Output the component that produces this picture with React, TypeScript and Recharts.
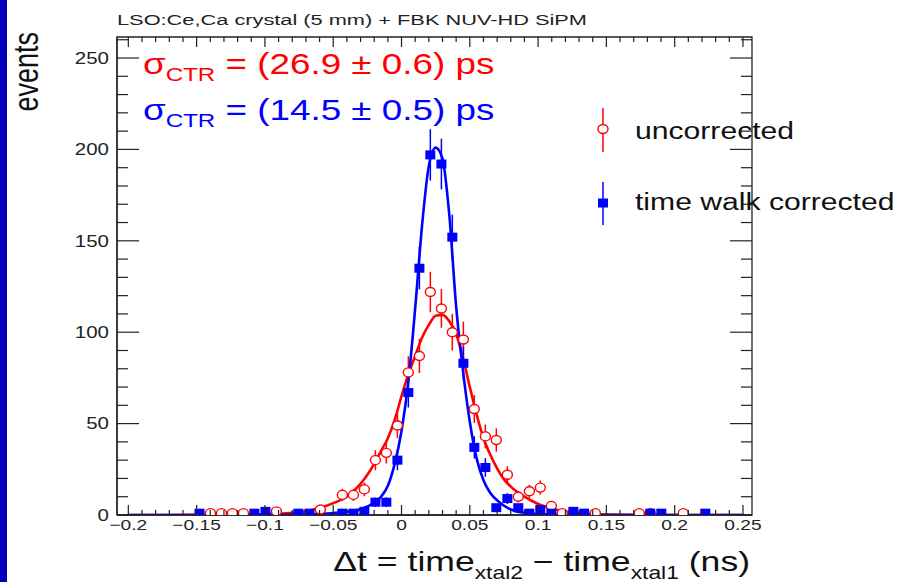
import React from "react";
import { ComposedChart, Line, Scatter, ErrorBar, XAxis, YAxis, ReferenceArea, Legend } from "recharts";

// binned event counts, bin centres in ns
const uncorrectedX = [-0.1399, -0.1318, -0.1238, -0.1157, -0.0916, -0.0594, -0.0433, -0.0352, -0.0272, -0.0191, -0.0111, -0.003, 0.005, 0.0131, 0.0211, 0.0292, 0.0372, 0.0453, 0.0533, 0.0614, 0.0694, 0.0775, 0.0855, 0.0936, 0.1016, 0.1097, 0.1177, 0.1258, 0.1419, 0.1741, 0.1821, 0.2063];
const uncorrectedY = [1, 1, 1, 1, 2, 3, 11, 11, 14, 30, 34, 49, 78, 87, 122, 113, 100, 96, 58, 43, 41, 22, 10, 13, 15, 5, 1, 1, 1, 1, 1, 1];

const correctedX = [-0.1479, -0.1077, -0.0996, -0.0755, -0.0674, -0.0433, -0.0352, -0.0272, -0.0191, -0.0111, -0.003, 0.005, 0.0131, 0.0211, 0.0292, 0.0372, 0.0453, 0.0533, 0.0614, 0.0694, 0.0775, 0.0855, 0.0936, 0.1016, 0.1097, 0.1258, 0.1338, 0.1821, 0.1902, 0.2224];
const correctedY = [1, 1, 2, 1, 1, 1, 1, 2, 7, 7, 30, 67, 135, 197, 192, 152, 83, 37, 26, 4, 9, 4, 1, 3, 1, 2, 1, 1, 1, 1];

// fit curves, sampled by eye
const fitUncorrectedX = [-0.2, -0.15, -0.12, -0.1, -0.09, -0.08, -0.07, -0.06, -0.05, -0.04, -0.03, -0.025, -0.02, -0.015, -0.01, -0.005, 0, 0.005, 0.01, 0.015, 0.02, 0.025, 0.03, 0.035, 0.04, 0.045, 0.05, 0.055, 0.06, 0.065, 0.07, 0.075, 0.08, 0.09, 0.1, 0.11, 0.12, 0.13, 0.14, 0.16, 0.2, 0.25];
const fitUncorrectedY = [0, 0.05, 0.2, 0.4, 0.7, 1.2, 2, 3.8, 6.5, 10, 17, 22, 28, 35, 42, 52, 65, 77, 87, 97, 104, 109, 109.5, 106, 99, 86, 70, 55, 42, 33, 25.5, 19.5, 15.5, 10, 6, 3.5, 1.9, 1, 0.5, 0.15, 0, 0];

const fitCorrectedX = [-0.2, -0.1, -0.07, -0.05, -0.04, -0.03, -0.02, -0.015, -0.01, -0.005, 0, 0.005, 0.01, 0.015, 0.02, 0.025, 0.03, 0.035, 0.04, 0.045, 0.05, 0.055, 0.06, 0.065, 0.07, 0.08, 0.09, 0.1, 0.12, 0.25];
const fitCorrectedY = [0, 0.1, 0.4, 1.1, 1.8, 3.2, 6.8, 10, 16, 28, 46, 73, 113, 158, 191, 201, 195, 164, 114, 79, 51, 31, 19, 12, 8, 3, 1.2, 0.5, 0.1, 0];

const xMajorTicks = [-0.2, -0.15, -0.1, -0.05, 0, 0.05, 0.1, 0.15, 0.2, 0.25];
const xTickLabels = ["\u22120.2", "\u22120.15", "\u22120.1", "\u22120.05", "0", "0.05", "0.1", "0.15", "0.2", "0.25"];
const yMajorTicks = [0, 50, 100, 150, 200, 250];

const X_MIN = -0.2083;
const X_MAX = 0.2566;
const Y_MAX = 261.5;

const xTicks = Array.from({ length: 46 }, (_, i) => Math.round((-0.2 + i * 0.01) * 1000) / 1000);
const yTicks = Array.from({ length: 27 }, (_, i) => i * 10);

const RED = "#ff0000";
const BLUE = "#0000ff";
const AXIS = "#222";
const FONT = "'Liberation Sans', Arial, Helvetica, sans-serif";
const STRETCH = 1.28;

const PLOT_W = 635;
const PLOT_H = 478;

const uncorrected = uncorrectedX.map((x, i) => ({ x, y: uncorrectedY[i], err: Math.sqrt(uncorrectedY[i]) }));
const corrected = correctedX.map((x, i) => ({ x, y: correctedY[i], err: Math.sqrt(correctedY[i]) }));
const fitUncorrected = fitUncorrectedX.map((x, i) => ({ x, y: fitUncorrectedY[i] }));
const fitCorrected = fitCorrectedX.map((x, i) => ({ x, y: fitCorrectedY[i] }));

const XTick = (props: any) => {
  const { x, y, payload } = props;
  const idx = xMajorTicks.findIndex((t) => Math.abs(t - payload.value) < 1e-6);
  const len = idx >= 0 ? 10 : 5;
  return (
    <g>
      <line x1={x} y1={y} x2={x} y2={y - len} stroke={AXIS} strokeWidth={1.2} />
      <line x1={x} y1={y - PLOT_H} x2={x} y2={y - PLOT_H + len} stroke={AXIS} strokeWidth={1.2} />
      {idx >= 0 && (
        <text transform={`translate(${x},${y + 15}) scale(${STRETCH},1)`} textAnchor="middle" fontSize={15} fontFamily={FONT} fill={AXIS}>
          {xTickLabels[idx]}
        </text>
      )}
    </g>
  );
};

const YTick = (props: any) => {
  const { x, y, payload } = props;
  const major = yMajorTicks.includes(payload.value);
  const len = major ? 22 : 11;
  return (
    <g>
      <line x1={x} y1={y} x2={x + len} y2={y} stroke={AXIS} strokeWidth={1.2} />
      <line x1={x + PLOT_W - len} y1={y} x2={x + PLOT_W} y2={y} stroke={AXIS} strokeWidth={1.2} />
      {major && (
        <text transform={`translate(${x - 8},${y}) scale(${STRETCH},1)`} dy="0.36em" textAnchor="end" fontSize={16} fontFamily={FONT} fill={AXIS}>
          {payload.value}
        </text>
      )}
    </g>
  );
};

const RedCircle = (p: any) => (
  <ellipse cx={p.cx} cy={p.cy} rx={5} ry={4.5} fill="#fff" stroke={RED} strokeWidth={1.4} />
);
const BlueSquare = (p: any) => <rect x={p.cx - 5} y={p.cy - 4.5} width={10} height={9} fill={BLUE} />;

const LegendBox = () => (
  <svg width={310} height={140} style={{ overflow: "visible" }}>
    <line x1={13} y1={8} x2={13} y2={52} stroke={RED} strokeWidth={1.5} />
    <ellipse cx={13} cy={29} rx={5} ry={4.5} fill="#fff" stroke={RED} strokeWidth={1.4} />
    <text transform="translate(45,39) scale(1.31,1)" fontSize={23} fontFamily={FONT} fill="#111">uncorrected</text>
    <line x1={13} y1={82} x2={13} y2={125} stroke={BLUE} strokeWidth={1.5} />
    <rect x={8} y={98.5} width={10} height={9} fill={BLUE} />
    <text transform="translate(45,110) scale(1.31,1)" fontSize={23} fontFamily={FONT} fill="#111">time walk corrected</text>
  </svg>
);

export default function App() {
  return (
    <div style={{ position: "absolute", left: 0, top: 0, width: 900, height: 582, background: "#fff", overflow: "hidden" }}>
      <div style={{ position: "absolute", left: 0, top: 0, width: 7, height: 582, background: "#0000bb" }} />
      <ComposedChart width={900} height={582} margin={{ top: 37, right: 148, bottom: 37, left: 0 }}>
        <XAxis
          type="number"
          dataKey="x"
          domain={[X_MIN, X_MAX]}
          allowDataOverflow
          ticks={xTicks}
          interval={0}
          tick={<XTick />}
          tickLine={false}
          tickSize={0}
          tickMargin={0}
          height={30}
          axisLine={{ stroke: AXIS, strokeWidth: 1.3 }}
        />
        <YAxis
          type="number"
          domain={[0, Y_MAX]}
          allowDataOverflow
          ticks={yTicks}
          interval={0}
          tick={<YTick />}
          tickLine={false}
          tickSize={0}
          tickMargin={0}
          width={117}
          axisLine={{ stroke: AXIS, strokeWidth: 1.3 }}
        />
        <ReferenceArea x1={X_MIN} x2={X_MAX} y1={0} y2={Y_MAX} fill="none" fillOpacity={0} stroke={AXIS} strokeWidth={1.3} />
        <Scatter data={uncorrected} dataKey="y" shape={RedCircle} isAnimationActive={false}>
          <ErrorBar dataKey="err" direction="y" width={0} stroke={RED} strokeWidth={1.5} isAnimationActive={false} />
        </Scatter>
        <Line data={fitUncorrected} dataKey="y" type="monotone" stroke={RED} strokeWidth={2.6} dot={false} activeDot={false} isAnimationActive={false} />
        <Scatter data={corrected} dataKey="y" shape={BlueSquare} isAnimationActive={false}>
          <ErrorBar dataKey="err" direction="y" width={0} stroke={BLUE} strokeWidth={1.5} isAnimationActive={false} />
        </Scatter>
        <Line data={fitCorrected} dataKey="y" type="monotone" stroke={BLUE} strokeWidth={2.6} dot={false} activeDot={false} isAnimationActive={false} />
        <Legend
          layout="vertical"
          align="center"
          verticalAlign="middle"
          content={<LegendBox />}
          wrapperStyle={{ position: "absolute", left: 590, top: 100, width: 310, height: 140 }}
        />
      </ComposedChart>
      <svg width={900} height={582} style={{ position: "absolute", left: 0, top: 0, pointerEvents: "none" }}>
        <text x={117} y={25} fontSize={14} fontFamily={FONT} fill="#222" textLength={470} lengthAdjust="spacingAndGlyphs">
          LSO:Ce,Ca crystal (5 mm) + FBK NUV-HD SiPM
        </text>
        <text transform="translate(38,32) scale(1.3,1) rotate(-90)" textAnchor="end" fontSize={27} fontFamily={FONT} fill="#111">
          events
        </text>
        <text transform="translate(143,74) scale(1.27,1)" fontSize={29} fontFamily={FONT} fill={RED}>
          <tspan>σ</tspan>
          <tspan fontSize={19} dy={7}>CTR</tspan>
          <tspan dy={-7}> = (26.9 ± 0.6) ps</tspan>
        </text>
        <text transform="translate(143,120) scale(1.27,1)" fontSize={29} fontFamily={FONT} fill={BLUE}>
          <tspan>σ</tspan>
          <tspan fontSize={19} dy={7}>CTR</tspan>
          <tspan dy={-7}> = (14.5 ± 0.5) ps</tspan>
        </text>
        <text transform="translate(750,571) scale(1.27,1)" textAnchor="end" fontSize={28} fontFamily={FONT} fill="#111">
          <tspan>Δt = time</tspan>
          <tspan fontSize={18} dy={8}>xtal2</tspan>
          <tspan dy={-8}> − time</tspan>
          <tspan fontSize={18} dy={8}>xtal1</tspan>
          <tspan dy={-8}> (ns)</tspan>
        </text>
      </svg>
    </div>
  );
}
